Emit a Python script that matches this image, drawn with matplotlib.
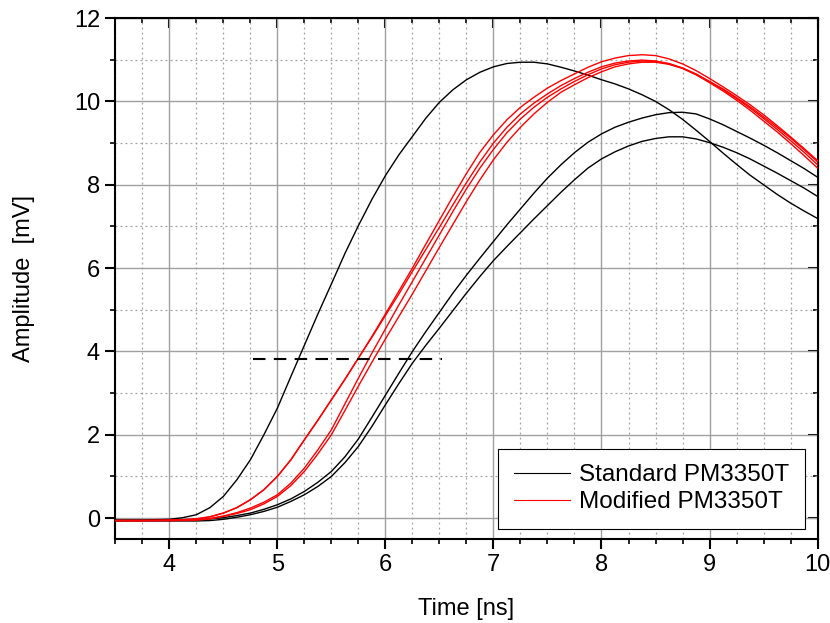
import numpy as np
import matplotlib
matplotlib.use('Agg')
from matplotlib import pyplot as plt
from matplotlib.ticker import MultipleLocator

plt.rcParams['font.family'] = ['Liberation Sans', 'DejaVu Sans']

# time axis, ns
t = [3.5, 3.75, 4.0, 4.125, 4.25, 4.375, 4.5, 4.625, 4.75, 4.875, 5.0, 5.125, 5.25,
     5.375, 5.5, 5.625, 5.75, 5.875, 6.0, 6.125, 6.25, 6.375, 6.5, 6.625, 6.75, 6.875,
     7.0, 7.125, 7.25, 7.375, 7.5, 7.625, 7.75, 7.875, 8.0, 8.125, 8.25, 8.375, 8.5,
     8.625, 8.75, 8.875, 9.0, 9.125, 9.25, 9.375, 9.5, 9.625, 9.75, 9.875, 10.0]

# standard PM3350T pulses (mV)
std_a = [-0.05, -0.05, -0.03, 0.01, 0.08, 0.25, 0.52, 0.92, 1.40, 2.0, 2.64, 3.4, 4.15,
         4.9, 5.62, 6.35, 7.02, 7.65, 8.22, 8.72, 9.16, 9.6, 9.98, 10.28, 10.52, 10.7,
         10.83, 10.91, 10.94, 10.94, 10.9, 10.82, 10.73, 10.63, 10.52, 10.42, 10.3, 10.16, 10.0,
         9.8, 9.57, 9.31, 9.04, 8.76, 8.49, 8.23, 8.0, 7.77, 7.56, 7.37, 7.19]
std_b = [-0.05, -0.05, -0.05, -0.05, -0.04, -0.02, 0.01, 0.06, 0.12, 0.21, 0.32, 0.46, 0.64,
         0.86, 1.12, 1.47, 1.9, 2.42, 2.95, 3.48, 4.0, 4.48, 4.94, 5.4, 5.83, 6.24,
         6.64, 7.04, 7.42, 7.8, 8.16, 8.48, 8.77, 9.02, 9.22, 9.38, 9.5, 9.6, 9.68,
         9.73, 9.74, 9.7, 9.58, 9.44, 9.28, 9.12, 8.95, 8.77, 8.58, 8.39, 8.18]
std_c = [-0.07, -0.07, -0.07, -0.07, -0.07, -0.06, -0.03, 0.02, 0.08, 0.16, 0.26, 0.4, 0.56,
         0.76, 1.0, 1.33, 1.72, 2.2, 2.72, 3.23, 3.72, 4.15, 4.56, 4.98, 5.4, 5.8,
         6.18, 6.52, 6.85, 7.18, 7.5, 7.82, 8.12, 8.4, 8.62, 8.79, 8.93, 9.04, 9.11,
         9.15, 9.15, 9.1, 9.01, 8.9, 8.77, 8.62, 8.45, 8.28, 8.1, 7.92, 7.72]

# modified PM3350T pulses (mV)
mod_a = [-0.06, -0.06, -0.05, -0.04, -0.02, 0.03, 0.12, 0.25, 0.44, 0.68, 1.0, 1.4, 1.88,
         2.35, 2.84, 3.33, 3.84, 4.36, 4.9, 5.45, 6.0, 6.58, 7.15, 7.72, 8.27, 8.78,
         9.2, 9.56, 9.86, 10.1, 10.32, 10.5, 10.66, 10.82, 10.95, 11.04, 11.1, 11.12, 11.1,
         11.02, 10.9, 10.74, 10.55, 10.35, 10.14, 9.92, 9.68, 9.42, 9.15, 8.87, 8.58]
mod_b = [-0.06, -0.06, -0.05, -0.04, -0.02, 0.03, 0.12, 0.25, 0.44, 0.68, 1.0, 1.4, 1.88,
         2.35, 2.84, 3.33, 3.84, 4.34, 4.86, 5.38, 5.92, 6.45, 6.98, 7.52, 8.05, 8.55,
         9.0, 9.38, 9.7, 9.96, 10.18, 10.38, 10.55, 10.7, 10.83, 10.92, 10.97, 10.99, 10.97,
         10.91, 10.8, 10.66, 10.48, 10.3, 10.09, 9.87, 9.63, 9.38, 9.12, 8.84, 8.55]
mod_c = [-0.06, -0.06, -0.06, -0.05, -0.04, -0.01, 0.05, 0.13, 0.24, 0.38, 0.56, 0.84, 1.2,
         1.64, 2.12, 2.74, 3.36, 3.96, 4.54, 5.12, 5.68, 6.24, 6.8, 7.36, 7.9, 8.4,
         8.85, 9.25, 9.58, 9.86, 10.1, 10.3, 10.48, 10.64, 10.78, 10.88, 10.94, 10.97, 10.96,
         10.9, 10.8, 10.65, 10.47, 10.28, 10.07, 9.84, 9.59, 9.33, 9.06, 8.78, 8.48]
mod_d = [-0.06, -0.06, -0.06, -0.06, -0.05, -0.02, 0.04, 0.11, 0.2, 0.34, 0.52, 0.78, 1.12,
         1.54, 2.0, 2.58, 3.17, 3.74, 4.3, 4.84, 5.38, 5.94, 6.5, 7.05, 7.6, 8.12,
         8.6, 9.02, 9.38, 9.7, 9.98, 10.22, 10.4, 10.57, 10.71, 10.83, 10.9, 10.94, 10.94,
         10.89, 10.79, 10.64, 10.45, 10.25, 10.03, 9.79, 9.53, 9.27, 8.99, 8.7, 8.4]

# threshold marker
thr_t = [4.77, 6.52]
thr_v = [3.81, 3.81]

fig = plt.figure(figsize=(8.3, 6.23), dpi=100)
ax = fig.add_axes([0.139, 0.135, 0.846, 0.836])

for i, s in enumerate([std_a, std_b, std_c]):
    ax.plot(t, s, color='black', lw=1.0, label='Standard PM3350T' if i == 0 else None, zorder=3)
for i, s in enumerate([mod_a, mod_b, mod_c, mod_d]):
    ax.plot(t, s, color='red', lw=1.0, label='Modified PM3350T' if i == 0 else None, zorder=3)

ax.plot(thr_t, thr_v, color='black', lw=1.5, dashes=(6, 4), zorder=3)

ax.set_xlim(3.5, 10)
ax.set_ylim(-0.5, 12)
ax.xaxis.set_major_locator(MultipleLocator(1))
ax.xaxis.set_minor_locator(MultipleLocator(0.25))
ax.yaxis.set_major_locator(MultipleLocator(2))
ax.yaxis.set_minor_locator(MultipleLocator(1))

ax.grid(which='major', color='#a0a0a0', lw=1.0, ls='-', zorder=0)
ax.grid(which='minor', color='#a0a0a0', lw=0.9, ls=(0, (1.5, 2.5)), zorder=0)
ax.set_axisbelow(True)

for sp in ax.spines.values():
    sp.set_linewidth(1.5)

ax.tick_params(which='major', direction='out', length=7, width=1.5, labelsize=17, pad=4)
ax.tick_params(which='minor', direction='out', length=3.5, width=1.2)

# mirrored inward ticks on top and right
top = ax.secondary_xaxis('top')
top.xaxis.set_major_locator(MultipleLocator(1))
top.xaxis.set_minor_locator(MultipleLocator(0.25))
top.tick_params(which='major', direction='in', length=7, width=1.5, labeltop=False)
top.tick_params(which='minor', direction='in', length=3.5, width=1.2)
right = ax.secondary_yaxis('right')
right.yaxis.set_major_locator(MultipleLocator(2))
right.yaxis.set_minor_locator(MultipleLocator(1))
right.tick_params(which='major', direction='in', length=7, width=1.5, labelright=False)
right.tick_params(which='minor', direction='in', length=3.5, width=1.2)

ax.set_xlabel('Time [ns]', fontsize=17, labelpad=16)
ax.set_ylabel('Amplitude  [mV]', fontsize=17, labelpad=28)

leg = ax.legend(loc='lower right', bbox_to_anchor=(0.9815, 0.019), borderaxespad=0,
                fontsize=17.5, frameon=True, fancybox=False, edgecolor='black', framealpha=1,
                handlelength=2.3, handletextpad=0.35, borderpad=0.65, labelspacing=0.2)
leg.get_frame().set_linewidth(0.8)
for line in leg.get_lines():
    line.set_linewidth(0.8)

fig.savefig('out.png', dpi=100)
